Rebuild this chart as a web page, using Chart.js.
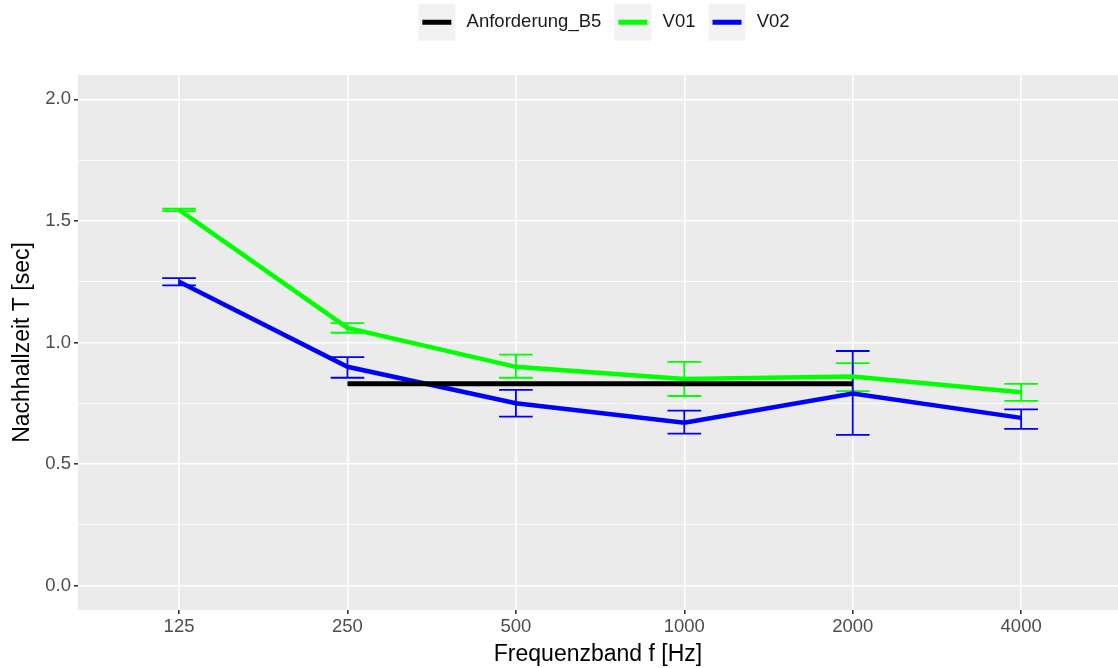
<!DOCTYPE html>
<html>
<head>
<meta charset="utf-8">
<script src="https://cdn.jsdelivr.net/npm/chart.js@4"></script>
<style>
  html, body { margin: 0; padding: 0; background: #fff; }
  #wrap { width: 1118px; height: 668px; }
</style>
</head>
<body>
<div id="wrap"><canvas id="myChart"></canvas></div>
<script>
const freqs = ["125", "250", "500", "1000", "2000", "4000"];

const anforderung = [null, 0.83, 0.83, 0.83, 0.83, null];

const v01 = [1.545, 1.06, 0.90, 0.85, 0.86, 0.795];
const v01Lo = [1.54, 1.04, 0.855, 0.78, 0.80, 0.76];
const v01Hi = [1.55, 1.08, 0.95, 0.92, 0.915, 0.83];

const v02 = [1.25, 0.90, 0.75, 0.67, 0.79, 0.69];
const v02Lo = [1.235, 0.855, 0.695, 0.625, 0.62, 0.645];
const v02Hi = [1.265, 0.94, 0.805, 0.72, 0.965, 0.725];

const yTicks = [0, 0.5, 1.0, 1.5, 2.0];

Chart.defaults.font.family = "'Liberation Sans', Arial, sans-serif";

const toPoints = arr => arr.map((v, i) => ({ x: i, y: v }));

const legendShift = 45;

// fixed legend height, and legend moved right a bit like ggplot's
const legendTweak = {
  id: "legendTweak",
  afterInit(chart) {
    const lg = chart.legend;
    if (!lg || lg._patched) return;
    const fit = lg.fit;
    lg.fit = function () {
      fit.call(this);
      this.height = 75;
    };
    lg._patched = true;
  },
  afterUpdate(chart) {
    const lg = chart.legend;
    if (!lg) return;
    lg.left += legendShift;
    lg.right += legendShift;
    (lg.legendHitBoxes || []).forEach(b => { b.left += legendShift; });
  }
};

// grey panel + legend keys (grey square with a line)
const panelBg = {
  id: "panelBg",
  beforeDraw(chart) {
    const { ctx, chartArea: a } = chart;
    ctx.save();
    ctx.fillStyle = "#ebebeb";
    ctx.fillRect(a.left, a.top, a.right - a.left, a.bottom - a.top);
    const lg = chart.legend;
    if (lg && lg.legendHitBoxes) {
      lg.legendHitBoxes.forEach((b, i) => {
        const cy = b.top + b.height / 2;
        ctx.fillStyle = "#f2f2f2";
        ctx.fillRect(b.left, cy - 18.5, 37, 37);
        ctx.fillStyle = chart.data.datasets[i].borderColor;
        ctx.fillRect(b.left + 4, cy - 2.5, 29, 5);
      });
    }
    ctx.restore();
  }
};

// error bars drawn through the chart's scales
const errorBars = {
  id: "errorBars",
  beforeDatasetsDraw(chart) {
    const { ctx, scales: { x, y } } = chart;
    const sets = [
      { lo: v01Lo, hi: v01Hi, color: "#00ff00" },
      { lo: v02Lo, hi: v02Hi, color: "#0000ff" },
    ];
    const half = (x.getPixelForValue(1) - x.getPixelForValue(0)) * 0.1;
    ctx.save();
    ctx.lineWidth = 1.8;
    sets.forEach(s => {
      ctx.strokeStyle = s.color;
      s.lo.forEach((lo, i) => {
        const px = x.getPixelForValue(i);
        const y1 = y.getPixelForValue(lo);
        const y2 = y.getPixelForValue(s.hi[i]);
        ctx.beginPath();
        ctx.moveTo(px, y1); ctx.lineTo(px, y2);
        ctx.moveTo(px - half, y1); ctx.lineTo(px + half, y1);
        ctx.moveTo(px - half, y2); ctx.lineTo(px + half, y2);
        ctx.stroke();
      });
    });
    ctx.restore();
  }
};

const data = {
  datasets: [
    {
      label: "Anforderung_B5",
      data: toPoints(anforderung),
      borderColor: "#000000",
      backgroundColor: "#000000",
      borderWidth: 5,
      borderCapStyle: "butt",
      pointRadius: 0,
      spanGaps: false,
    },
    {
      label: "V01",
      data: toPoints(v01),
      borderColor: "#00ff00",
      backgroundColor: "#00ff00",
      borderWidth: 4.5,
      pointRadius: 0,
    },
    {
      label: "V02",
      data: toPoints(v02),
      borderColor: "#0000ff",
      backgroundColor: "#0000ff",
      borderWidth: 4.5,
      pointRadius: 0,
    },
  ],
};

const config = {
  type: "line",
  data: data,
  options: {
    responsive: true,
    maintainAspectRatio: false,
    animation: false,
    layout: { padding: 0 },
    plugins: {
      tooltip: { enabled: false },
      legend: {
        position: "top",
        align: "center",
        labels: {
          boxWidth: 39,
          boxHeight: 5,
          padding: 13,
          color: "#1a1a1a",
          font: { size: 18.5 },
          generateLabels(chart) {
            return chart.data.datasets.map((ds, i) => ({
              text: ds.label,
              fillStyle: "rgba(0,0,0,0)",
              strokeStyle: "rgba(0,0,0,0)",
              lineWidth: 0,
              datasetIndex: i,
              fontColor: "#1a1a1a",
            }));
          },
        },
      },
    },
    scales: {
      x: {
        type: "linear",
        min: -0.6,
        max: 5.575,
        afterBuildTicks(scale) {
          scale.ticks = freqs.map((f, i) => ({ value: i }));
        },
        afterFit(scale) { scale.height = 58; },
        ticks: {
          color: "#4d4d4d",
          font: { size: 18.5 },
          padding: 2,
          maxRotation: 0,
          autoSkip: false,
          callback: v => freqs[v],
        },
        grid: {
          color: "#ffffff",
          lineWidth: 1.6,
          tickColor: "#333333",
          tickLength: 4,
          drawTicks: true,
        },
        border: { display: false },
        title: {
          display: true,
          text: "Frequenzband f [Hz]",
          color: "#000000",
          font: { size: 23 },
          padding: { top: 0, bottom: 0 },
        },
      },
      y: {
        min: -0.1,
        max: 2.1,
        afterBuildTicks(scale) {
          const t = [];
          for (let v = 0; v <= 2.0001; v += 0.25) t.push({ value: Math.round(v * 100) / 100 });
          scale.ticks = t;
        },
        afterFit(scale) { scale.width = 78; },
        ticks: {
          color: "#4d4d4d",
          font: { size: 18.5 },
          padding: 3,
          callback: v => (yTicks.includes(v) ? v.toFixed(1) : ""),
        },
        grid: {
          color: "#ffffff",
          lineWidth: ctx => (yTicks.includes(ctx.tick.value) ? 1.6 : 0.8),
          tickColor: ctx => (yTicks.includes(ctx.tick.value) ? "#333333" : "rgba(0,0,0,0)"),
          tickLength: 4,
        },
        border: { display: false },
        title: {
          display: true,
          text: "Nachhallzeit T [sec]",
          color: "#000000",
          font: { size: 23 },
          padding: { top: 9, bottom: 0 },
        },
      },
    },
  },
  plugins: [legendTweak, panelBg, errorBars],
};

const myChart = new Chart(document.getElementById("myChart"), config);
</script>
</body>
</html>
